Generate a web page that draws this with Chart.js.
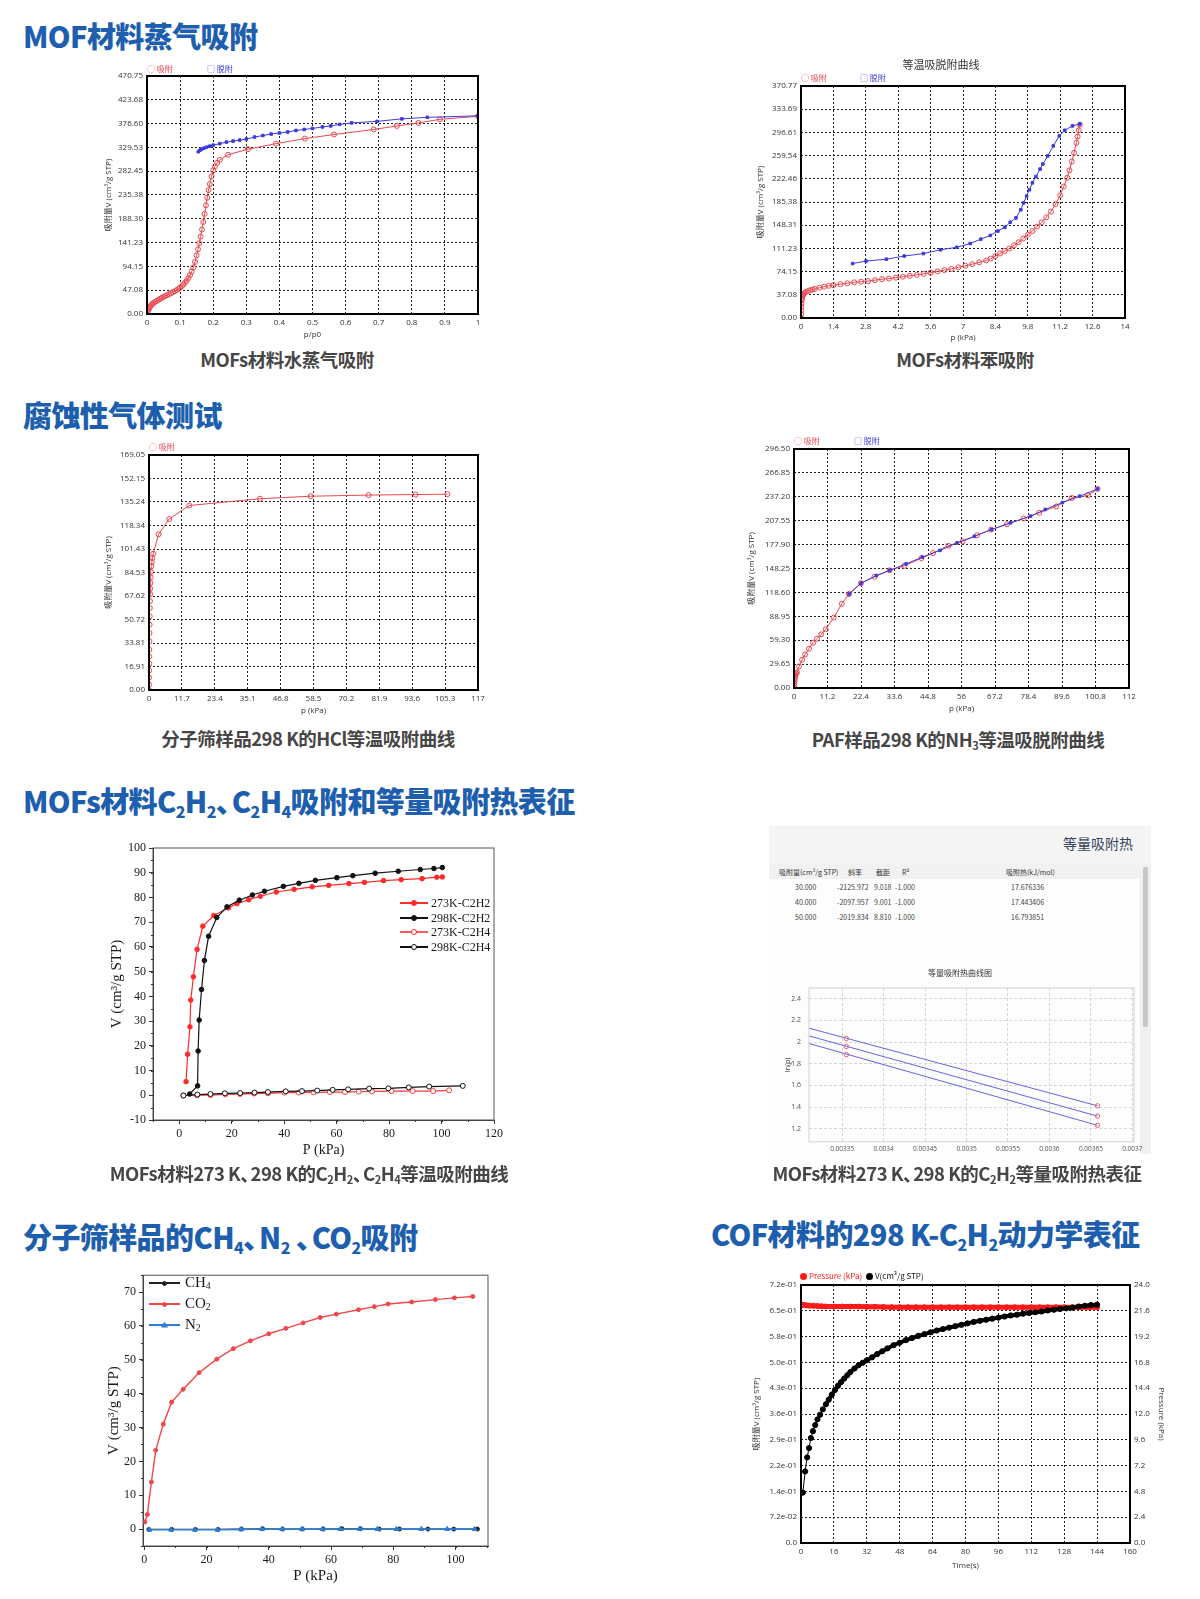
<!DOCTYPE html>
<html lang="zh">
<head>
<meta charset="utf-8">
<title>吸附表征</title>
<script src="https://cdn.jsdelivr.net/npm/chart.js@4/dist/chart.umd.min.js"></script>
<style>
  body { margin: 0; width: 1200px; height: 1599px; position: relative; overflow: hidden; background: #fff;
         font-family: "Noto Sans CJK SC", "Noto Sans", sans-serif; }
  .abs { position: absolute; white-space: nowrap; line-height: 1; }
  .head { color: #1d5fae; font-size: 29px; font-weight: 900; letter-spacing: -0.6px; }
  .head sub { font-size: 55%; vertical-align: -0.3em; line-height: 0; }
  .cap { color: #464646; font-size: 18.5px; font-weight: bold; letter-spacing: -0.5px; transform: translateX(-50%); }
  .cap sub { font-size: 60%; vertical-align: -0.3em; line-height: 0; }
  .pn { letter-spacing: -0.45em; }
  .panel { position: absolute; background: #fff; }
  .lg { font-size: 8px; }
  .ol { position: absolute; width: 0; height: 0; font-family: "Liberation Serif", serif; color: #1a1a1a; }
  .ol i { position: absolute; left: 0; top: -0.75px; height: 1.5px; }
  .ol b { position: absolute; top: -3px; width: 6px; height: 6px; border-radius: 50%; border: 1px solid; box-sizing: border-box; }
  .ol span { position: absolute; white-space: nowrap; }
  .ol sub { font-size: 65%; vertical-align: -0.25em; line-height: 0; }
  .dot { position: absolute; width: 7px; height: 7px; border-radius: 50%; }
</style>
</head>
<body>

<div class="abs head" style="left:23px;top:21px">MOF材料蒸气吸附</div>
<div class="abs head" style="left:23px;top:400px">腐蚀性气体测试</div>
<div class="abs head" style="left:23px;top:786px">MOFs材料C<sub>2</sub>H<sub>2</sub><span class="pn">、</span>C<sub>2</sub>H<sub>4</sub>吸附和等量吸附热表征</div>
<div class="abs head" style="left:23px;top:1222px">分子筛样品的CH<sub>4</sub><span class="pn">、</span>N<sub>2</sub> <span class="pn">、</span>CO<sub>2</sub>吸附</div>
<div class="abs head" style="left:711px;top:1219px">COF材料的298 K-C<sub>2</sub>H<sub>2</sub>动力学表征</div>

<div class="abs cap" style="left:965px;top:350px">MOFs材料苯吸附</div>

<div class="panel" id="p1"></div>
<div class="panel" id="p2"></div>
<div class="panel" id="p3"></div>
<div class="panel" id="p4"></div>
<div class="panel" id="p5"></div>
<div class="panel" id="p6" style="background:#f4f4f4"></div>
<div class="panel" id="p7"></div>
<div class="panel" id="p8"></div>

<div class="abs cap" style="left:287px;top:350px">MOFs材料水蒸气吸附</div>
<div class="abs cap" style="left:308px;top:729px">分子筛样品298 K的HCl等温吸附曲线</div>
<div class="abs cap" style="left:958px;top:730px">PAF样品298 K的NH<sub>3</sub>等温吸脱附曲线</div>
<div class="abs cap" style="left:309px;top:1164px">MOFs材料273 K<span class="pn">、</span>298 K的C<sub>2</sub>H<sub>2</sub><span class="pn">、</span>C<sub>2</sub>H<sub>4</sub>等温吸附曲线</div>
<div class="abs cap" style="left:957px;top:1164px">MOFs材料273 K<span class="pn">、</span>298 K的C<sub>2</sub>H<sub>2</sub>等量吸附热表征</div>

<div class="abs lg" style="left:147px;top:65px;color:#e8474f">○ 吸附</div>
<div class="abs lg" style="left:207px;top:65px;color:#3b3bdc">□ 脱附</div>
<div class="abs" style="left:941px;top:59px;font-size:11px;color:#333;transform:translateX(-50%)">等温吸脱附曲线</div>
<div class="abs lg" style="left:801px;top:74px;color:#e8474f">○ 吸附</div>
<div class="abs lg" style="left:860px;top:74px;color:#3b3bdc">□ 脱附</div>
<div class="abs lg" style="left:149px;top:443px;color:#e8474f">○ 吸附</div>
<div class="abs lg" style="left:794px;top:437px;color:#e8474f">○ 吸附</div>
<div class="abs lg" style="left:854px;top:437px;color:#3b3bdc">□ 脱附</div>

<div class="ol" style="left:400px;top:903px;font-size:12px"><i style="width:28px;background:#ff2a2a"></i><b style="left:11px;background:#ff2a2a;border-color:#ff2a2a"></b><span style="left:31px;top:-7px">273K-C2H2</span></div>
<div class="ol" style="left:400px;top:918px;font-size:12px"><i style="width:28px;background:#111"></i><b style="left:11px;background:#111;border-color:#111"></b><span style="left:31px;top:-7px">298K-C2H2</span></div>
<div class="ol" style="left:400px;top:932px;font-size:12px"><i style="width:28px;background:#ff5a5a"></i><b style="left:11px;background:#fff;border-color:#ff2a2a"></b><span style="left:31px;top:-7px">273K-C2H4</span></div>
<div class="ol" style="left:400px;top:947px;font-size:12px"><i style="width:28px;background:#111"></i><b style="left:11px;background:#fff;border-color:#111"></b><span style="left:31px;top:-7px">298K-C2H4</span></div>

<div class="ol" style="left:149px;top:1283px;font-size:15px"><i style="width:31px;background:#222"></i><b style="left:13px;width:5px;height:5px;top:-2.5px;background:#222;border-color:#222"></b><span style="left:36px;top:-9px">CH<sub>4</sub></span></div>
<div class="ol" style="left:149px;top:1304px;font-size:15px"><i style="width:31px;background:#f0474b"></i><b style="left:13px;width:5px;height:5px;top:-2.5px;background:#f0474b;border-color:#f0474b"></b><span style="left:36px;top:-9px">CO<sub>2</sub></span></div>
<div class="ol" style="left:149px;top:1325px;font-size:15px"><i style="width:31px;background:#2d7dd2"></i><b style="left:12px;width:7px;height:6px;top:-3.5px;border-radius:0;border:0;background:#2d7dd2;clip-path:polygon(50% 0,100% 100%,0 100%)"></b><span style="left:36px;top:-9px">N<sub>2</sub></span></div>

<div class="dot" style="left:800px;top:1273px;background:#ff1a1a"></div>
<div class="abs" style="left:809px;top:1272px;font-size:8px;color:#ff1a1a">Pressure (kPa)</div>
<div class="dot" style="left:866px;top:1273px;background:#000"></div>
<div class="abs" style="left:875px;top:1272px;font-size:8px;color:#111">V(cm³/g STP)</div>

<div id="heatInfo"></div>

<script>
// ---- MOF 水蒸气吸附 (p/p0 vs V) ----
var waterAdsX = [ 0, 0.002, 0.004, 0.006, 0.008, 0.01, 0.013, 0.016, 0.02, 0.025, 0.03, 0.035, 0.04, 0.045, 0.05, 0.055, 0.06, 0.066, 0.072, 0.078, 0.084, 0.09, 0.096, 0.1, 0.105, 0.11, 0.115, 0.12, 0.125, 0.13, 0.135, 0.14, 0.145, 0.15, 0.154, 0.158, 0.162, 0.166, 0.17, 0.174, 0.178, 0.182, 0.186, 0.19, 0.195, 0.2, 0.205, 0.212, 0.22, 0.245, 0.305, 0.39, 0.477, 0.565, 0.685, 0.755, 0.82, 0.885, 1.0 ];
var waterAdsY = [ 0, 4, 8, 11, 13, 15, 18, 20, 22, 24, 26, 28, 30, 32, 34, 35.5, 37, 39, 41, 43, 45, 47.5, 50, 52, 55, 58, 62, 66, 71, 77, 84, 92, 103, 116, 128, 140, 153, 167, 182, 198, 215, 230, 245, 257, 272, 284, 292, 299, 305, 315, 326, 337, 347, 355, 365, 372, 378, 385, 391 ];
var waterDesX = [ 1.0, 0.847, 0.77, 0.695, 0.618, 0.582, 0.555, 0.53, 0.5, 0.475, 0.45, 0.425, 0.4, 0.375, 0.35, 0.325, 0.3, 0.28, 0.26, 0.24, 0.22, 0.2, 0.19, 0.18, 0.172, 0.165, 0.16, 0.155 ];
var waterDesY = [ 392, 389, 386, 381, 378, 375, 372, 370, 367, 365, 363, 360, 358, 356, 353, 350, 346, 344, 342, 340, 337, 334, 332, 330, 328, 326, 324, 321 ];
var waterXTicks = [ '0', '0.1', '0.2', '0.3', '0.4', '0.5', '0.6', '0.7', '0.8', '0.9', '1' ];
var waterYTicks = [ '0.00', '47.08', '94.15', '141.23', '188.30', '235.38', '282.45', '329.53', '376.60', '423.68', '470.75' ];

// ---- 苯吸附 ----
var benzAdsX = [ 0, 0.005, 0.01, 0.015, 0.02, 0.03, 0.04, 0.06, 0.08, 0.1, 0.15, 0.2, 0.3, 0.4, 0.5, 0.6, 0.8, 1.0, 1.2, 1.4, 1.7, 2.0, 2.3, 2.6, 2.9, 3.2, 3.5, 3.8, 4.1, 4.4, 4.7, 5.0, 5.3, 5.6, 5.9, 6.2, 6.5, 6.8, 7.1, 7.4, 7.7, 8.0, 8.2, 8.4, 8.6, 8.8, 9.0, 9.2, 9.4, 9.6, 9.8, 10.0, 10.2, 10.4, 10.6, 10.8, 11.0, 11.2, 11.35, 11.5, 11.6, 11.7, 11.8, 11.9, 11.95, 12.0, 12.05 ];
var benzAdsY = [ 0, 6, 12, 18, 23, 28, 31, 34, 36, 38, 40, 41.5, 43, 44.5, 45.5, 46.5, 48.5, 50, 51.5, 52.5, 54, 55.5, 57, 58, 59, 60.5, 62, 63, 64.5, 66, 67.5, 69, 70.5, 72.5, 74.5, 76.5, 78.5, 81, 83.5, 86, 89, 92, 95, 99, 103, 107, 111, 116, 121, 127, 133, 139, 146, 153, 161, 170, 182, 196, 210, 224, 236, 250, 264, 280, 290, 300, 309 ];
var benzDesX = [ 12.05, 11.73, 11.4, 11.16, 10.9, 10.66, 10.45, 10.33, 10.15, 10.0, 9.87, 9.75, 9.62, 9.5, 9.29, 9.04, 8.81, 8.51, 8.18, 7.77, 7.31, 6.73, 6.03, 5.29, 4.46, 3.69, 2.81, 2.23 ];
var benzDesY = [ 310, 307, 300, 291, 275, 259, 246, 238, 226, 216, 205, 195, 184, 173, 160, 153, 145, 139, 132, 126, 119, 113, 109, 103, 99, 94, 91, 87 ];
var benzXTicks = [ '0', '1.4', '2.8', '4.2', '5.6', '7', '8.4', '9.8', '11.2', '12.6', '14' ];
var benzYTicks = [ '0.00', '37.08', '74.15', '111.23', '148.31', '185.38', '222.46', '259.54', '296.61', '333.69', '370.77' ];

// ---- HCl ----
var hclX = [ 0, 0.02, 0.04, 0.06, 0.08, 0.1, 0.12, 0.15, 0.18, 0.21, 0.25, 0.3, 0.35, 0.4, 0.45, 0.5, 0.6, 0.7, 0.85, 1.0, 1.2, 1.5, 3.4, 7.2, 14.3, 39.5, 57.5, 78.1, 94.8, 106.1 ];
var hclY = [ 0, 4, 9, 14, 19, 24, 29, 35, 41, 47, 53, 59, 64, 69, 73, 77, 81, 85, 89, 92, 95, 98, 112, 123, 132.7, 137.6, 139.4, 140.2, 140.6, 140.9 ];
var hclXTicks = [ '0', '11.7', '23.4', '35.1', '46.8', '58.5', '70.2', '81.9', '93.6', '105.3', '117' ];
var hclYTicks = [ '0.00', '16.91', '33.81', '50.72', '67.62', '84.53', '101.43', '118.34', '135.24', '152.15', '169.05' ];

// ---- NH3 ----
var nh3AdsX = [ 0, 0.05, 0.1, 0.15, 0.2, 0.3, 0.4, 0.5, 0.7, 1.0, 1.66, 2.7, 3.7, 5.0, 6.4, 7.7, 9.1, 10.6, 13.3, 16.0, 18.4, 22.4, 26.9, 32.0, 36.9, 42.6, 46.5, 51.6, 56.4, 61.2, 65.9, 71.2, 76.8, 82.0, 87.7, 92.9, 98.3, 101.5 ];
var nh3AdsY = [ 0, 3, 6, 9, 11, 13, 15, 16.5, 18, 19.5, 26.7, 35, 41.6, 48.7, 56.2, 61.2, 66.6, 72.9, 87.4, 104.5, 116.6, 130, 138, 146, 151.6, 161, 167.4, 176.5, 182, 189.5, 196.5, 203.2, 210.3, 217.4, 225.3, 235.7, 239, 247 ];
var nh3DesX = [ 101.5, 95.5, 89.7, 84, 79.1, 72.4, 66, 60.3, 54.5, 48.8, 42.9, 37.5, 32, 27.5, 22.4, 18.4 ];
var nh3DesY = [ 247, 238, 230, 221.5, 213.2, 204.9, 196.5, 188.2, 180, 170.7, 162.4, 154, 146, 139.5, 130, 116.6 ];
var nh3XTicks = [ '0', '11.2', '22.4', '33.6', '44.8', '56', '67.2', '78.4', '89.6', '100.8', '112' ];
var nh3YTicks = [ '0.00', '29.65', '59.30', '88.95', '118.60', '148.25', '177.90', '207.55', '237.20', '266.85', '296.50' ];

// ---- C2H2 / C2H4 ----
var c2h2At273X = [ 2.6, 3.2, 4.1, 4.4, 5.4, 6.8, 9.0, 13.2, 18.8, 22, 26.5, 30.9, 37, 43.8, 50.7, 57, 64.7, 70.6, 77.9, 84.6, 92.6, 98.2, 100.3 ];
var c2h2At273Y = [ 5.5, 16.6, 27.7, 38.5, 47.9, 59, 68.4, 72.7, 75.8, 77.5, 79.1, 80.5, 82.2, 83.3, 84.3, 84.9, 85.6, 86.1, 86.8, 87.2, 87.6, 88.2, 88.3 ];
var c2h2At298X = [ 4, 7, 7.2, 7.6, 8.5, 9.6, 11.2, 14.3, 18.2, 22.9, 27.9, 32.5, 39.7, 45.6, 51.9, 60.1, 66.2, 74.7, 83.5, 91.9, 97.1, 100.3 ];
var c2h2At298Y = [ 0.5, 3.8, 17.9, 30.4, 42.8, 54.5, 64.3, 71.9, 76.2, 78.9, 81, 82.5, 84.5, 85.7, 86.9, 88, 88.8, 89.8, 90.6, 91.3, 91.7, 92.1 ];
var c2h4At273X = [ 1.6, 6.8, 11.9, 17.6, 23.2, 28.5, 33.8, 40.1, 45.6, 51.2, 57.4, 63.2, 68.4, 73.5, 80.9, 89, 96.8, 102.9 ];
var c2h4At273Y = [ -0.1, 0, 0.1, 0.4, 0.5, 0.7, 0.8, 1.1, 1.1, 1.2, 1.3, 1.3, 1.5, 1.6, 1.7, 1.7, 1.7, 2.0 ];
var c2h4At298X = [ 1.6, 6.9, 11.9, 17.4, 23.2, 28.7, 33.8, 40.6, 46.8, 52.6, 58.5, 64.4, 72.4, 79.7, 87.5, 95.3, 108.1 ];
var c2h4At298Y = [ -0.1, 0.3, 0.5, 0.8, 0.9, 1.1, 1.3, 1.6, 1.7, 1.9, 2.2, 2.4, 2.7, 2.8, 3.2, 3.5, 3.8 ];
var gasXTicks = [ '0', '20', '40', '60', '80', '100', '120' ];
var gasYTicks = [ '-10', '0', '10', '20', '30', '40', '50', '60', '70', '80', '90', '100' ];

// ---- 等量吸附热 ----
var heatAmount = [ '30.000', '40.000', '50.000' ];
var heatSlope = [ '-2125.972', '-2097.957', '-2019.834' ];
var heatIntercept = [ '9.018', '9.001', '8.810' ];
var heatR2 = [ '-1.000', '-1.000', '-1.000' ];
var heatQ = [ '17.676336', '17.443406', '16.793851' ];
var heatLineX = [ 0.00331, 0.003658 ];
var heatLine30 = [ 2.129, 1.412 ];
var heatLine40 = [ 2.058, 1.317 ];
var heatLine50 = [ 1.988, 1.232 ];
var heatPointX = [ 0.003355, 0.003658 ];
var heatPoint30 = [ 2.034, 1.412 ];
var heatPoint40 = [ 1.960, 1.317 ];
var heatPoint50 = [ 1.884, 1.232 ];
var heatXTicks = [ '0.00335', '0.0034', '0.00345', '0.0035', '0.00355', '0.0036', '0.00365', '0.0037' ];
var heatYTicks = [ '1.2', '1.4', '1.6', '1.8', '2', '2.2', '2.4' ];

// ---- CH4 / N2 / CO2 ----
var co2X = [ 0.2, 1.0, 2.3, 3.7, 6.1, 8.8, 12.5, 17.6, 23.3, 28.6, 34.1, 40, 45.5, 51, 56.5, 61.7, 68.8, 73.9, 78.3, 85.9, 93.5, 99.6, 105.5 ];
var co2Y = [ 2.1, 4.3, 13.9, 23.3, 31, 37.5, 41.3, 46.2, 50.2, 53.3, 55.6, 57.7, 59.3, 60.9, 62.5, 63.5, 64.8, 65.7, 66.5, 67.1, 67.8, 68.3, 68.7 ];
var n2X = [ 1.7, 8.6, 16.2, 23.5, 31.1, 37.8, 44.3, 50.7, 57.2, 63.0, 69.2, 74.9, 81, 89, 97.3, 106.1 ];
var n2Y = [ -0.2, -0.2, -0.2, -0.2, -0.1, 0, 0, 0, 0, 0, 0, 0, 0, 0, 0, 0 ];
var ch4X = [ 1.5, 8.8, 16.4, 23.7, 31.2, 38, 44.4, 50.8, 57.5, 63.5, 69.4, 75.5, 82, 91.1, 99.4, 107 ];
var ch4Y = [ -0.1, -0.1, -0.1, -0.1, 0, 0.1, 0, 0, 0, 0.1, 0.1, 0, 0, 0, 0, 0 ];
var sieveXTicks = [ '0', '20', '40', '60', '80', '100' ];
var sieveYTicks = [ '0', '10', '20', '30', '40', '50', '60', '70' ];

// ---- COF 动力学 ----
var kinT = [ 0.9, 2.0, 3.0, 3.9, 4.8, 5.8, 6.9, 8.0, 9.3, 10.6, 12.1, 13.5, 15, 16.5, 18, 19.5, 21, 22.5, 24, 26, 28, 30, 32, 34.5, 37, 39.5, 42, 45, 48, 51, 54, 57, 60, 63, 66, 69, 72, 75, 78, 81, 84, 87, 90, 93, 96, 99, 102, 105, 108, 111, 114, 117, 120, 123, 126, 129, 132, 135, 138, 141, 144 ];
var kinV = [ 0.1406, 0.1997, 0.239, 0.265, 0.293, 0.312, 0.329, 0.345, 0.358, 0.373, 0.387, 0.400, 0.414, 0.427, 0.439, 0.449, 0.459, 0.468, 0.477, 0.487, 0.496, 0.503, 0.510, 0.518, 0.527, 0.535, 0.543, 0.552, 0.559, 0.566, 0.572, 0.578, 0.583, 0.588, 0.593, 0.597, 0.601, 0.605, 0.609, 0.613, 0.617, 0.620, 0.623, 0.626, 0.629, 0.632, 0.635, 0.637, 0.640, 0.642, 0.644, 0.646, 0.649, 0.651, 0.653, 0.655, 0.657, 0.660, 0.662, 0.664, 0.665 ];
var kinPT = [ 0, 1, 2, 3, 4, 6, 8, 10, 12, 16, 20, 24, 28, 32, 36, 40, 44, 48, 52, 56, 60, 64, 68, 72, 76, 80, 84, 88, 92, 96, 100, 104, 108, 112, 116, 120, 124, 128, 132, 136, 140, 144 ];
var kinP = [ 22.2, 22.15, 22.12, 22.1, 22.08, 22.06, 22.04, 22.02, 22.0, 22.0, 22.0, 21.99, 21.99, 21.98, 21.98, 21.96, 21.94, 21.93, 21.93, 21.93, 21.93, 21.93, 21.93, 21.93, 21.93, 21.93, 21.93, 21.93, 21.93, 21.93, 21.93, 21.93, 21.93, 21.93, 21.93, 21.93, 21.93, 21.93, 21.93, 21.93, 21.93, 21.93 ];
var kinXTicks = [ '0', '16', '32', '48', '64', '80', '96', '112', '128', '144', '160' ];
var kinVTicks = [ '0.0', '7.2e-02', '1.4e-01', '2.2e-01', '2.9e-01', '3.6e-01', '4.3e-01', '5.0e-01', '5.8e-01', '6.5e-01', '7.2e-01' ];
var kinVTickValues = [ 0, 0.072, 0.144, 0.216, 0.288, 0.36, 0.432, 0.504, 0.576, 0.648, 0.72 ];
var kinPTicks = [ '0.0', '2.4', '4.8', '7.2', '9.6', '12.0', '14.4', '16.8', '19.2', '21.6', '24.0' ];

var RED = '#e8474f';
var BLUE = '#3b3bdc';
var SERIF = '"Liberation Serif", "DejaVu Serif", serif';

Chart.defaults.font.family = '"Open Sans", "Noto Sans CJK SC", sans-serif';
Chart.defaults.color = '#333';

var framePlugin = {
    id: 'frame',
    afterDraw: function ( chart, args, opts ) {
        if ( !opts.width ) {
            return;
        }
        var a = chart.chartArea;
        var ctx = chart.ctx;
        ctx.save();
        ctx.strokeStyle = opts.color;
        ctx.lineWidth = opts.width;
        ctx.strokeRect( a.left, a.top, a.right - a.left, a.bottom - a.top );
        ctx.restore();
    }
};

var minorTicks = {
    id: 'minorTicks',
    afterDraw: function ( chart, args, opts ) {
        if ( !opts.x ) {
            return;
        }
        var ctx = chart.ctx;
        var area = chart.chartArea;
        var sx = chart.scales.x;
        var sy = chart.scales.y;
        var v, p;
        ctx.save();
        ctx.strokeStyle = '#333';
        ctx.lineWidth = 1;
        ctx.beginPath();
        for ( v = Math.ceil( sx.min / opts.x ) * opts.x; v <= sx.max; v += opts.x ) {
            p = Math.round( sx.getPixelForValue( v ) ) + 0.5;
            ctx.moveTo( p, area.bottom );
            ctx.lineTo( p, area.bottom + opts.len );
        }
        for ( v = Math.ceil( sy.min / opts.y ) * opts.y; v <= sy.max; v += opts.y ) {
            p = Math.round( sy.getPixelForValue( v ) ) + 0.5;
            ctx.moveTo( area.left - opts.len, p );
            ctx.lineTo( area.left, p );
        }
        ctx.stroke();
        ctx.restore();
    }
};

Chart.register( framePlugin, minorTicks );

var makePoints = function ( xs, ys ) {
    return xs.map( function ( x, i ) {
        return { x: x, y: ys[ i ] };
    } );
};

var series = function ( xs, ys, style ) {
    return Object.assign( { data: makePoints( xs, ys ), showLine: true, borderWidth: 1, pointBorderWidth: 1 }, style );
};

var mount = function ( panelId, box, chartBox ) {
    var panel = document.getElementById( panelId );
    var cb = chartBox || box;
    panel.style.left = box[ 0 ] + 'px';
    panel.style.top = box[ 1 ] + 'px';
    panel.style.width = ( box[ 2 ] - box[ 0 ] ) + 'px';
    panel.style.height = ( box[ 3 ] - box[ 1 ] ) + 'px';
    var canvas = document.createElement( 'canvas' );
    canvas.width = cb[ 2 ] - cb[ 0 ];
    canvas.height = cb[ 3 ] - cb[ 1 ];
    canvas.style.position = 'absolute';
    canvas.style.left = ( cb[ 0 ] - box[ 0 ] ) + 'px';
    canvas.style.top = ( cb[ 1 ] - box[ 1 ] ) + 'px';
    panel.appendChild( canvas );
    return canvas;
};

var axis = function ( cfg ) {
    var labels = cfg.labels;
    var values = cfg.values || labels.map( parseFloat );
    var a = {
        type: 'linear',
        position: cfg.pos,
        min: cfg.min !== undefined ? cfg.min : values[ 0 ],
        max: cfg.max !== undefined ? cfg.max : values[ values.length - 1 ],
        afterBuildTicks: function ( s ) {
            s.ticks = values.map( function ( v ) {
                return { value: v };
            } );
        },
        ticks: {
            autoSkip: false,
            maxRotation: 0,
            minRotation: 0,
            padding: cfg.tickPad !== undefined ? cfg.tickPad : 4,
            color: '#333',
            font: { size: cfg.size || 8 },
            callback: function ( v, i ) {
                return labels[ i ];
            }
        },
        title: {
            display: !!cfg.title,
            text: cfg.title,
            color: '#333',
            font: { size: cfg.titleSize || 8 },
            padding: cfg.titlePad || 0
        }
    };
    if ( cfg.style === 'origin' ) {
        a.grid = { drawOnChartArea: false, drawTicks: true, tickLength: 4, tickColor: '#333', tickWidth: 1 };
        a.border = { display: true, color: '#333', width: 1 };
        a.ticks.color = '#1a1a1a';
        a.ticks.font.family = SERIF;
        a.title.color = '#1a1a1a';
        a.title.font.family = SERIF;
    } else if ( cfg.style === 'light' ) {
        a.grid = { color: '#d6d6d6', drawTicks: false };
        a.border = { display: false, dash: [ 3, 2 ] };
        a.ticks.color = '#555';
    } else {
        a.grid = { color: '#1e1e1e', drawTicks: false, drawOnChartArea: cfg.noGrid ? false : true };
        a.border = { display: false, dash: [ 2, 2 ] };
    }
    return a;
};

var build = function ( canvas, box, plot, datasets, scales, plugins ) {
    scales.x.afterFit = function ( s ) {
        s.height = box[ 3 ] - plot[ 3 ];
    };
    scales.y.afterFit = function ( s ) {
        s.width = plot[ 0 ] - box[ 0 ];
    };
    if ( scales.y2 ) {
        scales.y2.afterFit = function ( s ) {
            s.width = box[ 2 ] - plot[ 2 ];
        };
    }
    return new Chart( canvas, {
        type: 'scatter',
        data: { datasets: datasets },
        options: {
            responsive: false,
            animation: false,
            events: [],
            layout: {
                padding: { top: plot[ 1 ] - box[ 1 ], right: scales.y2 ? 0 : box[ 2 ] - plot[ 2 ], bottom: 0, left: 0 }
            },
            scales: scales,
            plugins: Object.assign( { legend: { display: false }, tooltip: { enabled: false } }, plugins || {} )
        }
    } );
};

var redOpen = { borderColor: RED, pointBorderColor: RED, pointBackgroundColor: 'rgba(255,255,255,0)', pointRadius: 2.5, pointStyle: 'circle' };
var blueSquare = { borderColor: BLUE, pointBorderColor: BLUE, pointBackgroundColor: BLUE, pointRadius: 1.8, pointStyle: 'rect' };
var blackFrame = { frame: { color: '#000', width: 2 } };

// 1. 水蒸气吸附
var box1 = [ 92, 61, 494, 346 ];
build( mount( 'p1', box1 ), box1, [ 147, 76, 478, 314 ], [
    series( waterDesX, waterDesY, blueSquare ),
    series( waterAdsX, waterAdsY, redOpen )
], {
    x: axis( { pos: 'bottom', labels: waterXTicks, title: 'p/p0', titlePad: 6 } ),
    y: axis( { pos: 'left', labels: waterYTicks, title: '吸附量V (cm³/g STP)', titlePad: 12 } )
}, blackFrame );

// 2. 苯吸附
var box2 = [ 746, 45, 1149, 352 ];
build( mount( 'p2', box2 ), box2, [ 801, 86, 1125, 318 ], [
    series( benzDesX, benzDesY, blueSquare ),
    series( benzAdsX, benzAdsY, redOpen )
], {
    x: axis( { pos: 'bottom', labels: benzXTicks, title: 'p (kPa)', titlePad: 9 } ),
    y: axis( { pos: 'left', labels: benzYTicks, title: '吸附量V (cm³/g STP)', titlePad: 10 } )
}, blackFrame );

// 3. HCl
var box3 = [ 92, 440, 495, 722 ];
build( mount( 'p3', box3 ), box3, [ 149, 455, 478, 690 ], [
    series( hclX, hclY, redOpen )
], {
    x: axis( { pos: 'bottom', labels: hclXTicks, title: 'p (kPa)', titlePad: 6 } ),
    y: axis( { pos: 'left', labels: hclYTicks, title: '吸附量V (cm³/g STP)', titlePad: 12 } )
}, blackFrame );

// 4. NH3
var box4 = [ 742, 433, 1145, 722 ];
build( mount( 'p4', box4 ), box4, [ 794, 449, 1129, 688 ], [
    series( nh3DesX, nh3DesY, blueSquare ),
    series( nh3AdsX, nh3AdsY, redOpen )
], {
    x: axis( { pos: 'bottom', labels: nh3XTicks, title: 'p (kPa)', titlePad: 8 } ),
    y: axis( { pos: 'left', labels: nh3YTicks, title: '吸附量V (cm³/g STP)', titlePad: 5 } )
}, blackFrame );

// 5. C2H2 / C2H4
var box5 = [ 103, 829, 507, 1163 ];
var filled = function ( c ) {
    return { borderColor: c, pointBorderColor: c, pointBackgroundColor: c, pointRadius: 2.3, borderWidth: 1.2 };
};
var hollow = function ( c ) {
    return { borderColor: c, pointBorderColor: c, pointBackgroundColor: '#fff', pointRadius: 2.5, borderWidth: 1.2 };
};
build( mount( 'p5', box5 ), box5, [ 153, 848, 494, 1120 ], [
    series( c2h2At298X, c2h2At298Y, filled( '#111' ) ),
    series( c2h2At273X, c2h2At273Y, filled( '#ff2a2a' ) ),
    series( c2h4At298X, c2h4At298Y, hollow( '#111' ) ),
    series( c2h4At273X, c2h4At273Y, hollow( '#ff3a3a' ) )
], {
    x: axis( { style: 'origin', pos: 'bottom', min: -10, max: 120, labels: gasXTicks, size: 12, tickPad: 3,
        title: 'P (kPa)', titleSize: 14, titlePad: 4 } ),
    y: axis( { style: 'origin', pos: 'left', min: -10, max: 100, labels: gasYTicks, size: 12, tickPad: 3,
        title: 'V (cm³/g STP)', titleSize: 15, titlePad: 5 } )
}, { frame: { color: '#555', width: 1 }, minorTicks: { x: 10, y: 5, len: 2 } } );

// 6. 等量吸附热: backgrounds go into the panel before its canvas
var box6 = [ 769, 826, 1151, 1154 ];
var chart6 = [ 769, 960, 1151, 1154 ];
var p6 = document.getElementById( 'p6' );
var shade = function ( x, y, w, h, color, radius ) {
    var el = document.createElement( 'div' );
    el.style.position = 'absolute';
    el.style.left = ( x - box6[ 0 ] ) + 'px';
    el.style.top = ( y - box6[ 1 ] ) + 'px';
    el.style.width = w + 'px';
    el.style.height = h + 'px';
    el.style.background = color;
    el.style.borderRadius = ( radius || 0 ) + 'px';
    p6.appendChild( el );
};
shade( 769, 864, 371, 290, '#fdfdfd' );
shade( 769, 864, 371, 15, '#f1f1f1' );
shade( 1140, 864, 11, 290, '#f0f0f0' );
shade( 1143, 867, 5, 160, '#c6c6c6', 2 );

var fitLine = { borderColor: '#6464e0', borderWidth: 1, pointRadius: 0 };
var heatDot = { showLine: false, pointRadius: 2.2, pointBorderColor: '#e06070', pointBackgroundColor: 'rgba(255,255,255,0)', pointBorderWidth: 1 };
build( mount( 'p6', box6, chart6 ), chart6, [ 809, 988, 1134, 1143 ], [
    series( heatPointX, heatPoint30, heatDot ),
    series( heatPointX, heatPoint40, heatDot ),
    series( heatPointX, heatPoint50, heatDot ),
    series( heatLineX, heatLine30, fitLine ),
    series( heatLineX, heatLine40, fitLine ),
    series( heatLineX, heatLine50, fitLine )
], {
    x: axis( { style: 'light', pos: 'bottom', min: 0.00331, max: 0.003702, labels: heatXTicks, size: 6.5, tickPad: 3 } ),
    y: axis( { style: 'light', pos: 'left', min: 1.08, max: 2.5, labels: heatYTicks, size: 7, tickPad: 8,
        title: 'ln(p)', titleSize: 7, titlePad: 15 } )
}, { frame: { color: '#cfcfcf', width: 1 } } );

// table and labels of panel 6
var info = document.getElementById( 'heatInfo' );
var put = function ( str, x, y, size, color ) {
    var el = document.createElement( 'div' );
    el.className = 'abs';
    el.textContent = str;
    el.style.left = x + 'px';
    el.style.top = ( y - size / 2 ) + 'px';
    el.style.fontSize = size + 'px';
    el.style.color = color || '#333';
    info.appendChild( el );
    return el;
};
put( '等量吸附热', 1063, 843, 14, '#34465e' );
put( '吸附量(cm³/g STP)', 779, 872, 7 );
put( '斜率', 848, 872, 7 );
put( '截距', 876, 872, 7 );
put( 'R²', 902, 872, 7 );
put( '吸附热(kJ/mol)', 1006, 872, 7 );
for ( var r = 0; r < heatAmount.length; r++ ) {
    var ry = 887 + r * 15;
    put( heatAmount[ r ], 795, ry, 7, '#444' );
    put( heatSlope[ r ], 837, ry, 7, '#444' );
    put( heatIntercept[ r ], 874, ry, 7, '#444' );
    put( heatR2[ r ], 895, ry, 7, '#444' );
    put( heatQ[ r ], 1011, ry, 7, '#444' );
}
put( '等量吸附热曲线图', 928, 973, 8, '#333' );

// 7. CH4 / N2 / CO2
var box7 = [ 103, 1265, 493, 1587 ];
build( mount( 'p7', box7 ), box7, [ 143, 1269, 490, 1546 ], [
    series( n2X, n2Y, { borderColor: '#2d7dd2', pointBorderColor: '#2d7dd2', pointBackgroundColor: '#2d7dd2', pointStyle: 'triangle', pointRadius: 2.8, borderWidth: 1.6 } ),
    series( ch4X, ch4Y, { borderColor: '#222', pointBorderColor: '#222', pointBackgroundColor: '#222', pointRadius: 2, borderWidth: 1.2 } ),
    series( co2X, co2Y, { borderColor: '#f0474b', pointBorderColor: '#f0474b', pointBackgroundColor: '#f0474b', pointRadius: 2, borderWidth: 1.4 } )
], {
    x: axis( { style: 'origin', pos: 'bottom', min: -0.4, max: 110.4, labels: sieveXTicks, size: 12, tickPad: 3,
        title: 'P (kPa)', titleSize: 15, titlePad: 2 } ),
    y: axis( { style: 'origin', pos: 'left', min: -5, max: 75, labels: sieveYTicks, size: 12, tickPad: 3,
        title: 'V (cm³/g STP)', titleSize: 15, titlePad: 2 } )
}, { frame: { color: '#555', width: 1 }, minorTicks: { x: 10, y: 5, len: 2 } } );

// 8. COF 动力学
var box8 = [ 738, 1265, 1181, 1577 ];
var y2 = axis( { pos: 'right', labels: kinPTicks, title: 'Pressure (kPa)', titlePad: 15, noGrid: true } );
build( mount( 'p8', box8 ), box8, [ 801, 1285, 1130, 1543 ], [
    Object.assign( series( kinT, kinV, { borderColor: '#000', pointBorderColor: '#000', pointBackgroundColor: '#000', pointRadius: 2.6 } ), {
        segment: {
            borderWidth: function ( ctx ) {
                return ctx.p0.parsed.x > 12 ? 4 : 1;
            }
        }
    } ),
    series( kinPT, kinP, { yAxisID: 'y2', borderColor: '#ff1a1a', pointBorderColor: '#ff1a1a', pointBackgroundColor: '#ff1a1a', pointRadius: 2.5, borderWidth: 5 } )
], {
    x: axis( { pos: 'bottom', labels: kinXTicks, title: 'Time(s)', titlePad: 6 } ),
    y: axis( { pos: 'left', labels: kinVTicks, values: kinVTickValues, title: '吸附量V (cm³/g STP)', titlePad: 14 } ),
    y2: y2
}, blackFrame );
</script>
</body>
</html>
